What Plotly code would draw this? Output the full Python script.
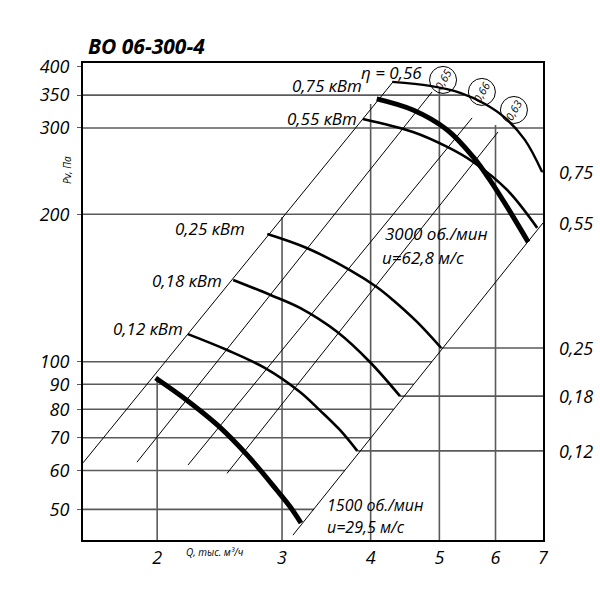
import math
import plotly.graph_objects as go

FONT = "Open Sans"

# ---------------- axes ----------------
x_ticks = [2, 3, 4, 5, 6, 7]
y_ticks = [50, 60, 70, 80, 90, 100, 200, 300, 350, 400]
q_range = [1.572, 7.0]
p_range = [43.3, 407.0]

# ---------------- grid (clipped like the original drawing) ----------------
grid_p = [50, 60, 70, 80, 90, 100, 200, 300, 350]
grid_q_end = [3.33, 3.68, 4.00, 4.31, 4.60, 4.88, 7.0, 7.0, 5.42]
grid_q = [2, 3, 4, 5, 6]
grid_p_top = [92.7, 197.5, 335.7, 360.4, 304.3]

# ---------------- system (diagonal) lines ----------------
diag_q0 = [1.572, 1.873, 2.211, 2.509, 3.108]
diag_p0 = [62.2, 62.4, 61.6, 59.2, 44.3]
diag_q1 = [4.301, 4.883, 5.561, 6.049, 7.0]
diag_p1 = [372.4, 355.3, 314.5, 294.4, 192.0]

# ---------------- fan curves ----------------
q_1500 = [1.99, 2.20, 2.44, 2.68, 2.95, 3.08, 3.19]
p_1500 = [92.7, 83.6, 74.0, 64.5, 54.7, 50.6, 46.9]

q_012 = [2.21, 2.51, 2.84, 3.18, 3.39, 3.62, 3.83]
p_012 = [113.9, 105.7, 97.1, 86.8, 79.7, 72.6, 65.8]

q_018 = [2.56, 2.89, 3.18, 3.59, 3.99, 4.40]
p_018 = [146.9, 136.9, 128.8, 115.0, 99.9, 85.1]

q_025 = [2.86, 3.25, 3.74, 4.08, 4.30, 4.65, 5.03]
p_025 = [182.3, 170.7, 153.9, 142.1, 133.7, 120.6, 106.7]

q_055 = [3.90, 4.59, 5.13, 5.58, 6.23, 6.87]
p_055 = [313.0, 294.4, 274.4, 255.7, 224.2, 187.6]

q_3000 = [4.08, 4.59, 5.13, 5.58, 5.89, 6.23, 6.67]
p_3000 = [343.9, 326.4, 297.2, 261.8, 235.0, 207.0, 175.6]

q_eta = [4.29, 4.85, 5.35, 5.80, 6.19, 6.60, 6.98]
p_eta = [372.4, 365.5, 353.8, 335.8, 314.5, 283.6, 244.0]

# efficiency marks (circled)
eff_q = [5.06, 5.74, 6.37]
eff_p = [375.9, 355.3, 326.4]
eff_lbl = ["0,65", "0,66", "0,63"]

# motor power levels on the right
power_p = [244.0, 192.0, 106.7, 85.1, 65.8]
power_q0 = [6.98, 7.0, 5.03, 4.40, 3.83]
power_lbl = ["0,75", "0,55", "0,25", "0,18", "0,12"]

fig = go.Figure()

# grid
gx, gy = [], []
for p, qe in zip(grid_p, grid_q_end):
    gx += [q_range[0], qe, None]
    gy += [p, p, None]
for q, pt in zip(grid_q, grid_p_top):
    gx += [q, q, None]
    gy += [p_range[0], pt, None]
for p, q0 in zip(power_p, power_q0):
    gx += [q0, q_range[1], None]
    gy += [p, p, None]
fig.add_trace(go.Scatter(x=gx, y=gy, mode="lines",
                         line=dict(color="#5a5a5a", width=1.6), hoverinfo="skip"))

# diagonals
dx, dy = [], []
for a, b, c, d in zip(diag_q0, diag_p0, diag_q1, diag_p1):
    dx += [a, c, None]
    dy += [b, d, None]
fig.add_trace(go.Scatter(x=dx, y=dy, mode="lines",
                         line=dict(color="black", width=1), hoverinfo="skip"))

# curves
for q, p, w in [(q_012, p_012, 2.6), (q_018, p_018, 2.6), (q_025, p_025, 2.6),
                (q_055, p_055, 2.6), (q_eta, p_eta, 2.4),
                (q_1500, p_1500, 5), (q_3000, p_3000, 5)]:
    fig.add_trace(go.Scatter(x=q, y=p, mode="lines", line=dict(color="black", width=w,
                             shape="spline", smoothing=1.0), hoverinfo="skip"))

# circled efficiency marks
fig.add_trace(go.Scatter(x=eff_q, y=eff_p, mode="markers", hoverinfo="skip",
                         marker=dict(symbol="circle-open", size=27, color="black",
                                     line=dict(width=1, color="black"))))

shapes = []
annotations = []

for q, p, t in zip(eff_q, eff_p, eff_lbl):
    annotations.append(dict(x=math.log10(q), y=math.log10(p), xref="x", yref="y",
                            text=t, showarrow=False, textangle=-60,
                            font=dict(family=FONT, size=11, style="italic", color="black")))

# right power labels + outside ticks
for p, t in zip(power_p, power_lbl):
    shapes.append(dict(type="line", xref="paper", yref="y", x0=1.0, x1=1.016,
                       y0=math.log10(p), y1=math.log10(p),
                       line=dict(color="#5a5a5a", width=1.6)))
    annotations.append(dict(x=(557 - 83) / 460, y=math.log10(p), xref="paper", yref="y",
                            text=t, showarrow=False, xanchor="left", yanchor="middle",
                            font=dict(family=FONT, size=18, style="italic", color="black")))


def ann(text, x, y, anchor="left", size=17, angle=0, bold=False):
    annotations.append(dict(
        x=(x - 83) / 460, y=(540 - y) / 477, xref="paper", yref="paper",
        text=text, showarrow=False, xanchor=anchor, yanchor="middle", textangle=angle,
        font=dict(family=FONT, size=size, style="italic",
                  weight="bold" if bold else "normal", color="black")))


ann("ВО 06-300-4", 86, 46, size=21, bold=True)
ann("η = 0,56", 359, 72, size=17)
ann("0,75 кВт", 364, 86, anchor="right")
ann("0,55 кВт", 359, 118, anchor="right")
ann("0,25 кВт", 247, 229, anchor="right")
ann("0,18 кВт", 224, 280, anchor="right")
ann("0,12 кВт", 185, 328, anchor="right")
ann("3000 об./мин", 383, 233)
ann("u=62,8 м/с", 380, 257)
ann("1500 об./мин", 325, 505, size=16)
ann("u=29,5 м/с", 325, 527, size=16)
ann("Q, тыс. м³/ч", 184, 552, size=10)
ann("Pv, Па", 67, 170, anchor="center", size=10, angle=-90)

fig.update_layout(
    width=600, height=600,
    margin=dict(l=83, r=57, t=63, b=60),
    paper_bgcolor="white", plot_bgcolor="white",
    showlegend=False, hovermode=False,
    shapes=shapes, annotations=annotations,
    font=dict(family=FONT, color="black"),
    xaxis=dict(type="log", range=[math.log10(q_range[0]), math.log10(q_range[1])],
               tickvals=x_ticks, ticktext=[str(v) for v in x_ticks],
               showgrid=False, zeroline=False, showline=True, mirror=True,
               linecolor="black", linewidth=2, ticks="",
               tickfont=dict(family=FONT, size=18, style="italic", color="black")),
    yaxis=dict(type="log", range=[math.log10(p_range[0]), math.log10(p_range[1])],
               tickvals=y_ticks, ticktext=[str(v) for v in y_ticks],
               showgrid=False, zeroline=False, showline=True, mirror=True,
               linecolor="black", linewidth=2, ticks="outside", ticklen=4,
               tickcolor="#5a5a5a", ticklabelstandoff=4,
               tickfont=dict(family=FONT, size=18, style="italic", color="black")),
)

fig.write_html("out.html")
